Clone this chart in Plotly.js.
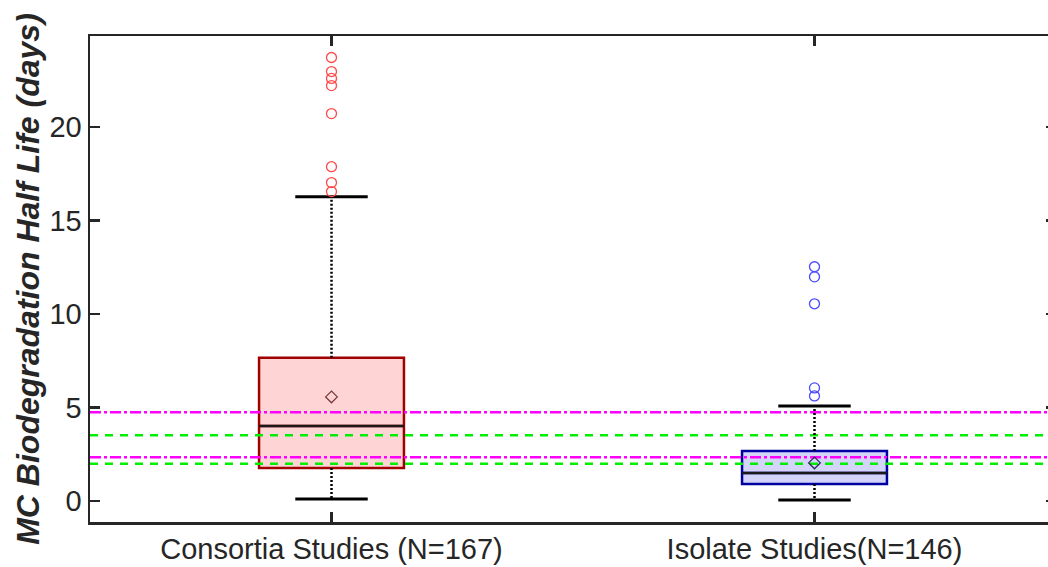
<!DOCTYPE html>
<html>
<head>
<meta charset="utf-8">
<script src="https://cdn.plot.ly/plotly-3.0.1.min.js"></script>
<style>
  html, body { margin: 0; padding: 0; overflow: hidden; background: #ffffff; }
  #chart { width: 1060px; height: 567px; }
</style>
</head>
<body>
<div id="chart"></div>
<script>
// Study groups and their box statistics (half life, days)
const categories = ['Consortia Studies (N=167)', 'Isolate Studies(N=146)'];
const positions = [1, 2];
const q1 = [1.77, 0.91];
const medians = [4.02, 1.50];
const q3 = [7.66, 2.68];
const lowerWhisker = [0.11, 0.05];
const upperWhisker = [16.28, 5.09];
const means = [5.57, 2.04];

// Points beyond the whiskers
const consortiaOutliers = [16.55, 17.03, 17.88, 20.72, 22.22, 22.60, 22.97, 23.72];
const isolateOutliers = [5.62, 6.05, 10.55, 11.99, 12.53];

// Reference half-life levels
const magentaLevels = [4.75, 2.34];
const greenLevels = [3.52, 2.00];

const yTicks = [0, 5, 10, 15, 20];

const boxEdge = ['#a00000', '#0000a0'];
const boxFill = ['#ffd4d4', '#d4d4fa'];
const meanColor = ['#7a3a3a', '#2a2a55'];
const outlierColor = ['#ff4a4a', '#4a4aff'];
const textColor = '#262626';
const font = 'Liberation Sans, Arial, sans-serif';

const boxWidth = 0.3;
const capHalf = 0.075;

const traces = [];

// Box bodies
positions.forEach((p, i) => {
  traces.push({
    type: 'box',
    x: [p],
    q1: [q1[i]], median: [medians[i]], q3: [q3[i]],
    lowerfence: [q1[i]], upperfence: [q3[i]],
    width: boxWidth,
    fillcolor: boxFill[i],
    line: { color: boxEdge[i], width: 2.5 },
    boxpoints: false,
    hoverinfo: 'skip',
    showlegend: false
  });
});

// Reference lines across the full axis
magentaLevels.forEach(v => {
  traces.push({
    type: 'scatter', mode: 'lines',
    x: [0.5, 2.5], y: [v, v],
    line: { color: '#ff00ff', width: 2.5, dash: '11px,3px,3px,3px' },
    hoverinfo: 'skip', showlegend: false
  });
});
greenLevels.forEach(v => {
  traces.push({
    type: 'scatter', mode: 'lines',
    x: [0.5, 2.5], y: [v, v],
    line: { color: '#00ee00', width: 2.5, dash: '8px,7px' },
    hoverinfo: 'skip', showlegend: false
  });
});

positions.forEach((p, i) => {
  // Median line
  traces.push({
    type: 'scatter', mode: 'lines',
    x: [p - boxWidth / 2, p + boxWidth / 2], y: [medians[i], medians[i]],
    line: { color: '#1a1a1a', width: 2.5 },
    hoverinfo: 'skip', showlegend: false
  });
  // Dotted whiskers
  traces.push({
    type: 'scatter', mode: 'lines',
    x: [p, p, null, p, p],
    y: [q3[i], upperWhisker[i], null, q1[i], lowerWhisker[i]],
    line: { color: '#000000', width: 2.5, dash: '2px,2px' },
    hoverinfo: 'skip', showlegend: false
  });
  // Whisker caps
  traces.push({
    type: 'scatter', mode: 'lines',
    x: [p - capHalf, p + capHalf, null, p - capHalf, p + capHalf],
    y: [upperWhisker[i], upperWhisker[i], null, lowerWhisker[i], lowerWhisker[i]],
    line: { color: '#000000', width: 3 },
    hoverinfo: 'skip', showlegend: false
  });
  // Mean marker
  traces.push({
    type: 'scatter', mode: 'markers',
    x: [p], y: [means[i]],
    marker: { symbol: 'diamond-open', size: 9, color: meanColor[i], line: { width: 1.3, color: meanColor[i] } },
    hoverinfo: 'skip', showlegend: false
  });
});

// Outliers
[consortiaOutliers, isolateOutliers].forEach((vals, i) => {
  traces.push({
    type: 'scatter', mode: 'markers',
    x: vals.map(() => positions[i]), y: vals,
    marker: { symbol: 'circle-open', size: 10, color: outlierColor[i], line: { width: 1.3, color: outlierColor[i] } },
    hoverinfo: 'skip', showlegend: false
  });
});

const layout = {
  width: 1060,
  height: 567,
  margin: { l: 90, r: 4, t: 36, b: 45 },
  paper_bgcolor: '#ffffff',
  plot_bgcolor: '#ffffff',
  font: { family: font, color: textColor, size: 29 },
  showlegend: false,
  xaxis: {
    range: [0.5, 2.5],
    tickvals: positions,
    ticktext: categories,
    ticks: 'inside', ticklen: 10, tickwidth: 2.5, tickcolor: textColor,
    showline: true, linecolor: textColor, linewidth: 2.5, mirror: 'ticks',
    showgrid: false, zeroline: false,
    tickfont: { family: font, size: 29, color: textColor }
  },
  yaxis: {
    range: [-1.12, 24.87],
    tickvals: yTicks,
    ticks: 'inside', ticklen: 10, tickwidth: 2.5, tickcolor: textColor,
    showline: true, linecolor: textColor, linewidth: 2.5, mirror: 'ticks',
    showgrid: false, zeroline: false,
    tickfont: { family: font, size: 29, color: textColor },
    title: {
      text: '<b><i>MC Biodegradation Half Life (days)</i></b>',
      font: { family: font, size: 32, color: textColor },
      standoff: 0
    }
  }
};

Plotly.newPlot('chart', traces, layout, { displayModeBar: false, staticPlot: true });
</script>
</body>
</html>
